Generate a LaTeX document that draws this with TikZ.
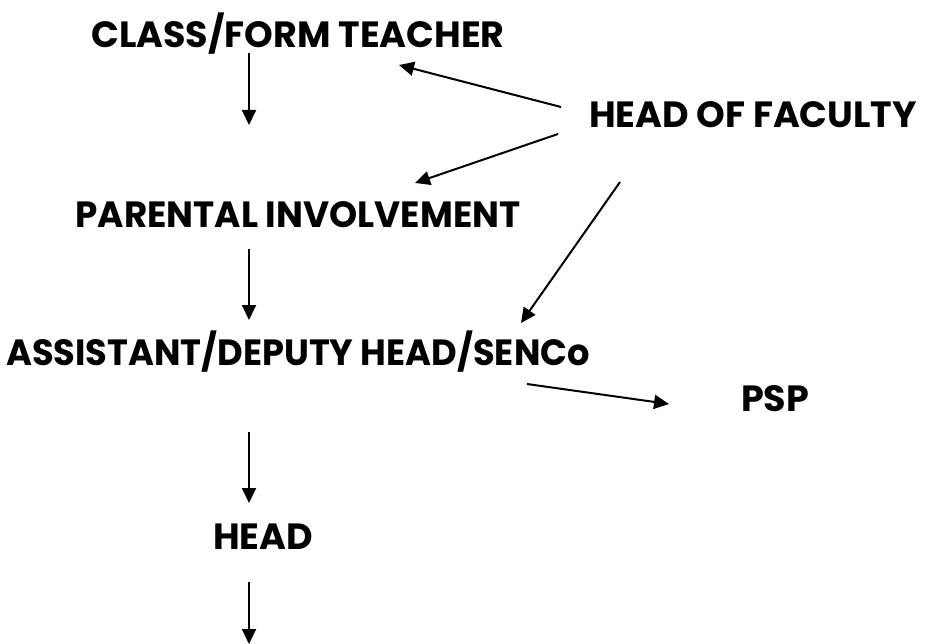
\documentclass[tikz,border=0pt]{standalone}
\usepackage{fontspec}
\newfontfamily\gfont{Poppins}
\usetikzlibrary{arrows.meta}
\begin{document}
\begin{tikzpicture}[x=1pt,y=-1pt,
  lbl/.style={font=\gfont\bfseries\fontsize{36.5}{40}\selectfont, inner sep=0pt, text height=26pt, text depth=0pt, anchor=base},
  arr/.style={line width=2pt, -{Triangle[length=15pt,width=14pt]}}]
\useasboundingbox (0,0) rectangle (926,644);
\node[lbl] (cft) at (298,48) {CLASS/FORM TEACHER};
\node[lbl] (hof) at (753,128) {HEAD OF FACULTY};
\node[lbl] (pi) at (298,228) {\scalebox{0.98}[1]{PARENTAL INVOLVEMENT}};
\node[lbl] (ass) at (298,365) {\scalebox{0.965}[1]{ASSISTANT/DEPUTY HEAD/SENCo}};
\node[lbl] (psp) at (775,411) {PSP};
\node[lbl] (head) at (263,549) {HEAD};
\coordinate (endb) at (249,644);
\draw[arr] ([shift={(-49,5)}]cft.base) -- ([shift={(-49,-103)}]pi.base);
\draw[arr] ([shift={(-192,-21)}]hof.base) -- ([shift={(101,17)}]cft.base);
\draw[arr] ([shift={(-195,6)}]hof.base) -- ([shift={(117,-45)}]pi.base);
\draw[arr] ([shift={(-49,21)}]pi.base) -- ([shift={(-49,-45)}]ass.base);
\draw[arr] ([shift={(-133,54)}]hof.base) -- ([shift={(223,-42)}]ass.base);
\draw[arr] ([shift={(229,19)}]ass.base) -- ([shift={(-106,-7)}]psp.base);
\draw[arr] ([shift={(-49,67)}]ass.base) -- ([shift={(-14,-46)}]head.base);
\draw[arr] ([shift={(-14,33)}]head.base) -- (endb);
\end{tikzpicture}
\end{document}
